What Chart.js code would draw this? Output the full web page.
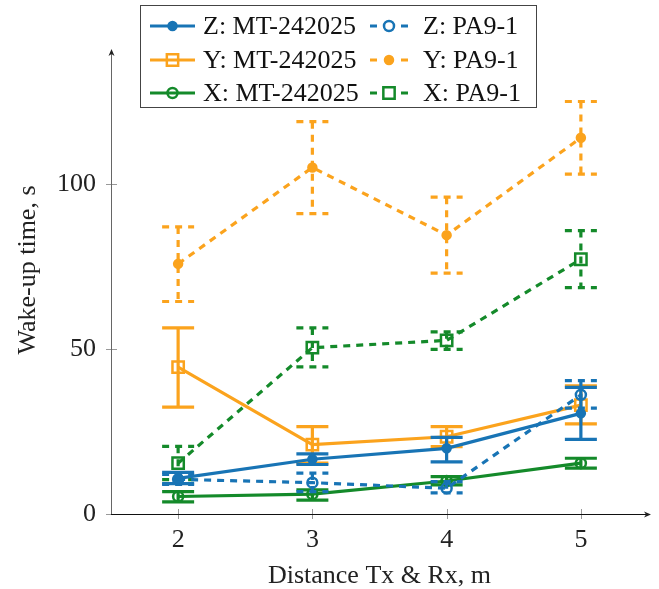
<!DOCTYPE html>
<html>
<head>
<meta charset="utf-8">
<script src="https://cdn.jsdelivr.net/npm/chart.js@4"></script>
<style>
  html, body { margin: 0; padding: 0; background: #fff; }
  #wrap { width: 659px; height: 589px; position: relative; }
</style>
</head>
<body>
<div id="wrap"><canvas id="wakeChart"></canvas></div>
<script>
// Distance (m) and tick labels
const distances = [2, 3, 4, 5];
const yTicks = [0, 50, 100];

// Z axis
const zMtMean = [10.8, 16.6, 19.9, 30.5];
const zMtLow = [9.2, 15.0, 15.8, 22.6];
const zMtHigh = [12.6, 18.2, 23.2, 38.4];
const zPaMean = [10.5, 9.5, 7.8, 36.1];
const zPaLow = [9.0, 6.8, 6.4, 32.1];
const zPaHigh = [12.0, 12.4, 9.8, 40.4];

// Y axis
const yMtMean = [44.5, 21.0, 23.4, 33.0];
const yMtLow = [32.4, 15.4, 20.4, 27.3];
const yMtHigh = [56.4, 26.5, 26.5, 38.8];
const yPaMean = [75.8, 105.0, 84.5, 114.0];
const yPaLow = [64.4, 91.0, 73.0, 103.0];
const yPaHigh = [87.0, 118.9, 96.0, 125.0];

// X axis
const xMtMean = [5.3, 6.0, 10.0, 15.4];
const xMtLow = [3.7, 4.2, 8.8, 13.9];
const xMtHigh = [6.8, 7.3, 11.3, 16.9];
const xPaMean = [15.4, 50.4, 52.6, 77.2];
const xPaLow = [10.4, 44.6, 49.9, 68.6];
const xPaHigh = [20.5, 56.4, 55.2, 85.9];

const BLUE = '#1874b5';
const ORANGE = '#fba31d';
const GREEN = '#148a2a';
const DASH = [7, 6];
const SERIF = '"Liberation Serif", "DejaVu Serif", serif';

function series(label, color, mean, low, high, dashed, style, filled, radius) {
    return {
        label: label,
        data: distances.map((d, i) => ({ x: d, y: mean[i] })),
        errLow: low,
        errHigh: high,
        borderColor: color,
        backgroundColor: color,
        borderWidth: 3.2,
        borderDash: dashed ? DASH : [],
        pointStyle: style,
        pointRadius: radius,
        pointBorderWidth: 2.5,
        pointBorderColor: color,
        pointBackgroundColor: filled ? color : 'rgba(0,0,0,0)',
        tension: 0,
        fill: false
    };
}

const datasets = [
    series('Z: MT-242025', BLUE, zMtMean, zMtLow, zMtHigh, false, 'circle', true, 4),
    series('Z: PA9-1', BLUE, zPaMean, zPaLow, zPaHigh, true, 'circle', false, 5),
    series('Y: MT-242025', ORANGE, yMtMean, yMtLow, yMtHigh, false, 'rect', false, 8),
    series('Y: PA9-1', ORANGE, yPaMean, yPaLow, yPaHigh, true, 'circle', true, 4),
    series('X: MT-242025', GREEN, xMtMean, xMtLow, xMtHigh, false, 'circle', false, 5),
    series('X: PA9-1', GREEN, xPaMean, xPaLow, xPaHigh, true, 'rect', false, 8)
];

// Error bars with caps, drawn under each series
const errorBars = {
    id: 'errorBars',
    beforeDatasetDraw(chart, args) {
        const ds = chart.data.datasets[args.index];
        const ctx = chart.ctx;
        const ys = chart.scales.y;
        ctx.save();
        ctx.strokeStyle = ds.borderColor;
        ctx.lineWidth = 3.2;
        ctx.setLineDash(ds.borderDash);
        args.meta.data.forEach((pt, i) => {
            const top = ys.getPixelForValue(ds.errHigh[i]);
            const bot = ys.getPixelForValue(ds.errLow[i]);
            ctx.beginPath();
            ctx.moveTo(pt.x, top); ctx.lineTo(pt.x, bot);
            ctx.moveTo(pt.x - 16, top); ctx.lineTo(pt.x + 16, top);
            ctx.moveTo(pt.x - 16, bot); ctx.lineTo(pt.x + 16, bot);
            ctx.stroke();
        });
        ctx.restore();
    }
};

// pgfplots style axes: arrows, crossing ticks, titles
const axesDeco = {
    id: 'axesDeco',
    beforeDatasetsDraw(chart) {
        const ctx = chart.ctx;
        const a = chart.chartArea;
        const xs = chart.scales.x, ys = chart.scales.y;
        ctx.save();
        ctx.lineWidth = 1;
        // ticks
        ctx.strokeStyle = '#999';
        ctx.beginPath();
        yTicks.forEach(v => {
            const p = Math.round(ys.getPixelForValue(v)) + 0.5;
            ctx.moveTo(a.left - 5, p); ctx.lineTo(a.left + 6, p);
        });
        distances.forEach(v => {
            const p = Math.round(xs.getPixelForValue(v)) + 0.5;
            ctx.moveTo(p, a.bottom - 5); ctx.lineTo(p, a.bottom + 5);
        });
        ctx.stroke();
        // y axis
        ctx.strokeStyle = '#666';
        ctx.fillStyle = '#222';
        ctx.beginPath();
        ctx.moveTo(a.left + 0.5, a.bottom); ctx.lineTo(a.left + 0.5, a.top - 1);
        ctx.stroke();
        ctx.beginPath();
        ctx.moveTo(a.left + 0.5, a.top - 3);
        ctx.lineTo(a.left - 2.5, a.top + 4);
        ctx.lineTo(a.left + 0.5, a.top + 2);
        ctx.lineTo(a.left + 3.5, a.top + 4);
        ctx.closePath();
        ctx.fill();
        // x axis
        ctx.strokeStyle = '#111';
        ctx.beginPath();
        ctx.moveTo(a.left, a.bottom + 0.5); ctx.lineTo(a.right + 1, a.bottom + 0.5);
        ctx.stroke();
        ctx.beginPath();
        ctx.moveTo(a.right + 3, a.bottom + 0.5);
        ctx.lineTo(a.right - 4, a.bottom - 2.5);
        ctx.lineTo(a.right - 2, a.bottom + 0.5);
        ctx.lineTo(a.right - 4, a.bottom + 3.5);
        ctx.closePath();
        ctx.fill();
        // titles
        ctx.fillStyle = '#222';
        ctx.font = '26px ' + SERIF;
        ctx.textAlign = 'center';
        ctx.textBaseline = 'middle';
        ctx.fillText('Distance Tx & Rx, m', (a.left + a.right) / 2, 576);
        ctx.translate(28, 270);
        ctx.rotate(-Math.PI / 2);
        ctx.fillText('Wake-up time, s', 0, 0);
        ctx.restore();
    }
};

// Boxed two-column legend in the top of the plot
const boxLegend = {
    id: 'boxLegend',
    afterDraw(chart) {
        const ctx = chart.ctx;
        const rows = [26, 60, 93];
        const cols = [
            { x1: 150, x2: 195, tx: 203 },
            { x1: 370, x2: 408, tx: 423 }
        ];
        ctx.save();
        ctx.fillStyle = '#fff';
        ctx.fillRect(140, 5, 396, 102);
        ctx.strokeStyle = '#444';
        ctx.lineWidth = 1;
        ctx.strokeRect(140.5, 5.5, 396, 102);
        chart.data.datasets.forEach((ds, i) => {
            const c = cols[i % 2];
            const y = rows[Math.floor(i / 2)];
            const mid = (c.x1 + c.x2) / 2;
            ctx.strokeStyle = ds.borderColor;
            ctx.lineWidth = 3.2;
            ctx.setLineDash([]);
            ctx.beginPath();
            if (ds.borderDash.length) {
                ctx.moveTo(c.x1, y); ctx.lineTo(c.x1 + 7, y);
                ctx.moveTo(c.x2 - 7, y); ctx.lineTo(c.x2, y);
            } else {
                ctx.moveTo(c.x1, y); ctx.lineTo(c.x2, y);
            }
            ctx.stroke();
            ctx.fillStyle = ds.pointBackgroundColor;
            ctx.lineWidth = ds.pointBorderWidth;
            Chart.helpers.drawPoint(ctx, {
                pointStyle: ds.pointStyle,
                radius: ds.pointRadius,
                borderWidth: ds.pointBorderWidth,
                rotation: 0
            }, mid, y);
            ctx.fillStyle = '#111';
            ctx.font = '26px ' + SERIF;
            ctx.textAlign = 'left';
            ctx.textBaseline = 'middle';
            ctx.fillText(ds.label, c.tx, y + 1);
        });
        ctx.restore();
    }
};

Chart.defaults.font.family = SERIF;
Chart.defaults.font.size = 26;
Chart.defaults.color = '#222';

new Chart(document.getElementById('wakeChart').getContext('2d'), {
    type: 'line',
    data: { datasets: datasets },
    options: {
        responsive: true,
        maintainAspectRatio: false,
        animation: false,
        layout: { padding: { top: 52, right: 11, left: 0, bottom: 0 } },
        plugins: { legend: { display: false }, tooltip: { enabled: false } },
        scales: {
            x: {
                type: 'linear',
                min: 1.5,
                max: 5.5,
                grid: { display: false },
                border: { display: false },
                ticks: { padding: 3, color: '#222' },
                afterBuildTicks: s => { s.ticks = distances.map(v => ({ value: v })); },
                afterFit: s => { s.height = 75; }
            },
            y: {
                type: 'linear',
                min: 0,
                max: 140,
                grid: { display: false },
                border: { display: false },
                ticks: { padding: 7, color: '#222' },
                afterBuildTicks: s => { s.ticks = yTicks.map(v => ({ value: v })); },
                afterFit: s => { s.width = 111; }
            }
        }
    },
    plugins: [errorBars, axesDeco, boxLegend]
});
</script>
</body>
</html>
